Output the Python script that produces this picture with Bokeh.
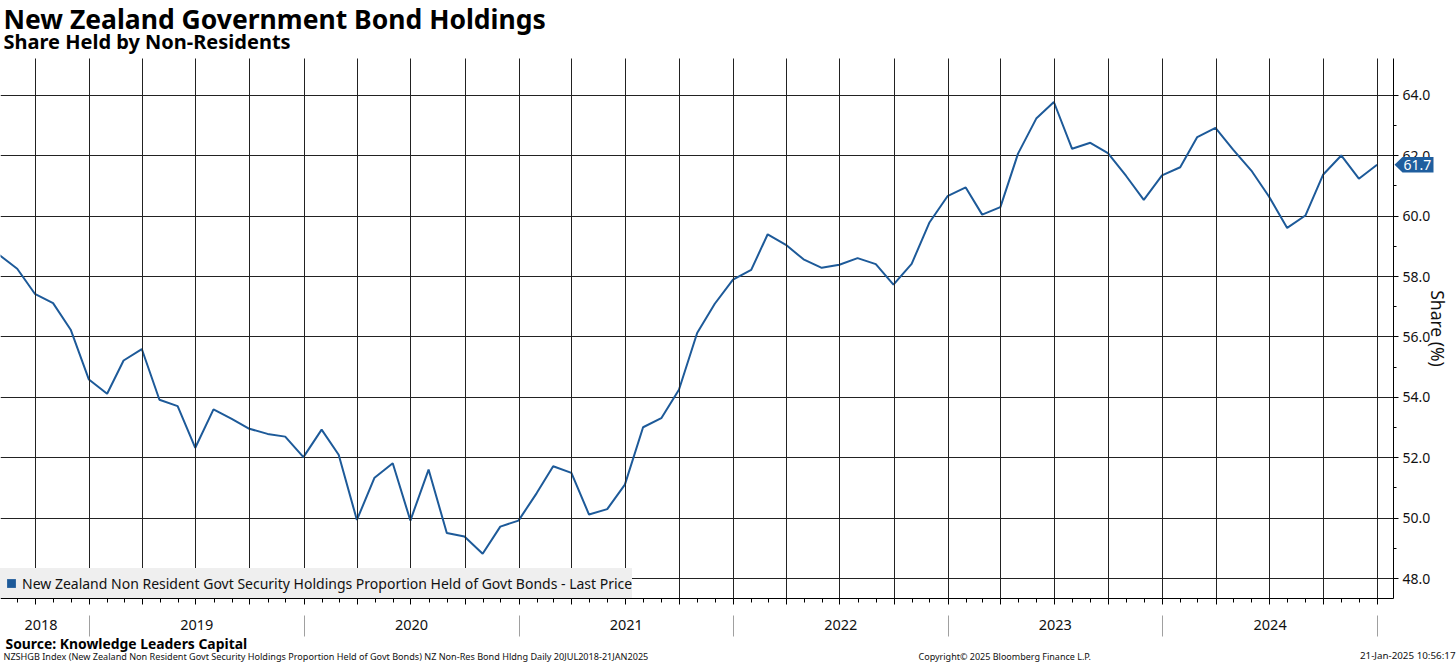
import pandas as pd
from bokeh.plotting import figure
from bokeh.models import (ColumnDataSource, Range1d, LinearAxis, FixedTicker,
                          PrintfTickFormatter, CustomJSTickFormatter,
                          Label, Legend, LegendItem, PolyAnnotation)
from bokeh.embed import file_html
from bokeh.resources import INLINE

# ---------------- data ----------------
TITLE = "New Zealand Government Bond Holdings"
SUBTITLE = "Share Held by Non-Residents"
SOURCE = "Source: Knowledge Leaders Capital"
FOOTNOTE = ("NZSHGB Index (New Zealand Non Resident Govt Security Holdings Proportion Held of "
            "Govt Bonds) NZ Non-Res Bond Hldng  Daily 20JUL2018-21JAN2025")
COPYRIGHT = "Copyright\u00a9 2025 Bloomberg Finance L.P."
STAMP = "21-Jan-2025 10:56:17"
SERIES = "New Zealand Non Resident Govt Security Holdings Proportion Held of Govt Bonds - Last Price"
Y_LABEL = "Share (%)"

# month-end observations, Jul 2018 .. Dec 2024
months = pd.date_range("2018-08-01", periods=78, freq="MS") - pd.Timedelta(days=1)
share = [58.72, 58.26, 57.43, 57.12, 56.24, 54.59, 54.12, 55.22, 55.60, 53.92,
         53.71, 52.33, 53.60, 53.29, 52.96, 52.79, 52.70, 52.02, 52.93, 52.10,
         49.94, 51.34, 51.82, 49.92, 51.61, 49.51, 49.39, 48.82, 49.72, 49.92,
         50.83, 51.72, 51.50, 50.12, 50.30, 51.11, 53.01, 53.31, 54.25, 56.13,
         57.10, 57.90, 58.22, 59.40, 59.05, 58.57, 58.29, 58.39, 58.61, 58.41,
         57.73, 58.42, 59.78, 60.66, 60.95, 60.05, 60.30, 62.07, 63.23, 63.78,
         62.23, 62.43, 62.09, 61.33, 60.54, 61.35, 61.62, 62.62, 62.92, 62.20,
         61.51, 60.65, 59.61, 60.02, 61.37, 62.01, 61.24, 61.70]
years = [2018, 2019, 2020, 2021, 2022, 2023, 2024]
y_ticks = [48, 50, 52, 54, 56, 58, 60, 62, 64]
y_minor = [49, 51, 53, 55, 57, 59, 61, 63]
data_start = "2018-07-20"

# ---------------- layout (pixels) ----------------
W, H = 1456, 665
PLOT_T, PLOT_B, PLOT_R = 58, 598, 1393          # data area inside the canvas
Y_LO, Y_HI = 47.34, 65.22                       # values at PLOT_B / PLOT_T
PPU = (PLOT_B - PLOT_T) / (Y_HI - Y_LO)         # pixels per percentage point
ANCHOR, ANCHOR_PX = "2019-01-01", 89            # date at a known pixel
PPD = 214.5 / 365.0                             # pixels per day
BASE_SHIFT = 0.365                              # renderer baseline offset (em)

BLUE = "#1d5a99"
FLAG = "#1f5e9e"
GRID = "#222222"
TXT = "#111111"
FONT = "Noto Sans"


def ms(t):
    return pd.Timestamp(t).timestamp() * 1000.0


DAY = 86400000.0
x0 = ms(ANCHOR) - ANCHOR_PX / PPD * DAY
x1 = x0 + W / PPD * DAY
x_axis = x0 + PLOT_R / PPD * DAY
y0 = Y_LO - (H - PLOT_B) / PPU
y1 = Y_HI + PLOT_T / PPU


def y_at(px):
    return Y_HI - (px - PLOT_T) / PPU


quarter_ticks = [ms(d) for d in pd.date_range("2018-10-01", "2025-01-01", freq="QS")]
month_ticks = [ms(d) for d in pd.date_range("2018-08-01", "2025-01-01", freq="MS")]
year_bounds = [ms(f"{y + 1}-01-01") for y in years]
year_mids = []
for y in years:
    a = ms(data_start) if y == years[0] else ms(f"{y}-01-01")
    b = ms(f"{y + 1}-01-01")
    year_mids.append((a + b) / 2)

src = ColumnDataSource(dict(date=months, share=share))

p = figure(width=W, height=H, x_axis_type="datetime", y_axis_location="right",
           x_range=Range1d(x0, x1), y_range=Range1d(y0, y1),
           toolbar_location=None, output_backend="svg",
           min_border_left=0, min_border_top=0, min_border_right=0, min_border_bottom=0)
p.outline_line_color = None
p.background_fill_color = "white"
p.border_fill_color = "white"

# bottom axis A: monthly / quarterly ticks, no labels
xa = p.xaxis[0]
xa.fixed_location = Y_LO
xa.bounds = (x0, x_axis)
xa.ticker = FixedTicker(ticks=quarter_ticks, minor_ticks=month_ticks)
xa.formatter = CustomJSTickFormatter(code="return ''")
xa.major_label_text_font_size = "0px"
xa.axis_line_color = "black"
xa.major_tick_line_color = "black"
xa.minor_tick_line_color = "black"
xa.major_tick_out = 6
xa.major_tick_in = 0
xa.minor_tick_out = 4
xa.minor_tick_in = 0

# bottom axis B: year labels
xb = LinearAxis(ticker=FixedTicker(ticks=year_mids),
                formatter=CustomJSTickFormatter(code="return String(new Date(tick).getUTCFullYear())"),
                fixed_location=y_at(615))
xb.axis_line_color = None
xb.major_tick_line_color = None
xb.minor_tick_line_color = None
xb.major_tick_out = 0
xb.major_tick_in = 0
xb.major_label_standoff = 4
xb.major_label_text_font = FONT
xb.major_label_text_font_size = "14.5px"
xb.major_label_text_color = TXT
p.add_layout(xb, "below")

# bottom axis C: year separators
xc = LinearAxis(ticker=FixedTicker(ticks=year_bounds),
                formatter=CustomJSTickFormatter(code="return ''"),
                fixed_location=y_at(615))
xc.axis_line_color = None
xc.minor_tick_line_color = None
xc.major_tick_line_color = "#a0a0a0"
xc.major_tick_out = 21
xc.major_tick_in = 0
xc.major_label_text_font_size = "0px"
p.add_layout(xc, "below")

# right value axis
ya = p.yaxis[0]
ya.fixed_location = x_axis
ya.bounds = (Y_LO, Y_HI)
ya.ticker = FixedTicker(ticks=y_ticks, minor_ticks=y_minor)
ya.formatter = PrintfTickFormatter(format="%.1f")
ya.axis_line_color = "black"
ya.major_tick_line_color = "black"
ya.minor_tick_line_color = "black"
ya.major_tick_out = 5
ya.major_tick_in = 0
ya.minor_tick_out = 3
ya.minor_tick_in = 0
ya.major_label_standoff = 4
ya.major_label_text_font = FONT
ya.major_label_text_font_size = "14px"
ya.major_label_text_color = TXT
ya.axis_label = Y_LABEL
ya.axis_label_text_font = FONT
ya.axis_label_text_font_size = "17.5px"
ya.axis_label_text_font_style = "normal"
ya.axis_label_text_color = TXT
ya.axis_label_standoff = -7

# grids
p.xgrid[0].ticker = FixedTicker(ticks=quarter_ticks)
p.xgrid[0].cross_bounds = (Y_LO, Y_HI)
p.xgrid.grid_line_color = GRID
p.xgrid.grid_line_width = 1
p.xgrid.level = "overlay"
p.ygrid[0].ticker = FixedTicker(ticks=y_ticks)
p.ygrid[0].cross_bounds = (x0, x_axis)
p.ygrid.grid_line_color = GRID
p.ygrid.grid_line_width = 1

# data line
p.line(x="date", y="share", source=src, line_color=BLUE, line_width=2)

# legend (square swatch; one hidden NaN row so the swatch gets its colour)
sw_src = ColumnDataSource(dict(x=[float("nan")], y=[float("nan")]))
sw = p.scatter(x="x", y="y", source=sw_src, marker="square", size=8,
               fill_color=BLUE, line_color=None)
legend = Legend(items=[LegendItem(label=SERIES, renderers=[sw])],
                location=(0, H - PLOT_B), margin=0, padding=2, spacing=0,
                background_fill_color="#efefef", background_fill_alpha=1.0,
                border_line_color=None, glyph_width=22, glyph_height=30,
                label_height=30, label_standoff=-1,
                label_text_font=FONT, label_text_font_size="14px", label_text_color=TXT)
p.add_layout(legend)

# last value flag on the right axis
last = share[-1]
hh = 7.8 / PPU
p.add_layout(PolyAnnotation(xs=[PLOT_R + 1, PLOT_R + 9, PLOT_R + 40, PLOT_R + 40, PLOT_R + 9],
                            ys=[last, last + hh, last + hh, last - hh, last - hh],
                            xs_units="screen", ys_units="data",
                            fill_color=FLAG, fill_alpha=1.0, line_color=None))
p.add_layout(Label(x=PLOT_R + 10, x_units="screen", y=last, y_units="data",
                   text=f"{last:.1f}", text_baseline="middle", text_align="left",
                   text_color="white", text_font=FONT, text_font_size="14px"))


# titles and footer texts (baseline pixel measured from the top of the canvas)
def txt(t, x, base_px, size, bold=False, align="left", color=TXT):
    y = H - (base_px - BASE_SHIFT * size)
    p.add_layout(Label(x=x, y=y, x_units="screen", y_units="screen", text=t,
                       text_font=FONT, text_font_size=f"{size}px",
                       text_font_style="bold" if bold else "normal",
                       text_color=color, text_align=align, text_baseline="alphabetic"))


txt(TITLE, 3, 28.6, 26.5, bold=True, color="black")
txt(SUBTITLE, 3, 48.5, 20, bold=True, color="black")
txt(SOURCE, 5, 648, 13.9, bold=True, color="black")
txt(FOOTNOTE, 3, 659, 9.1)
txt(COPYRIGHT, 918, 659, 9.0)
txt(STAMP, 1455, 659, 9.8, align="right")

open("out.html", "w").write(file_html(p, INLINE))
